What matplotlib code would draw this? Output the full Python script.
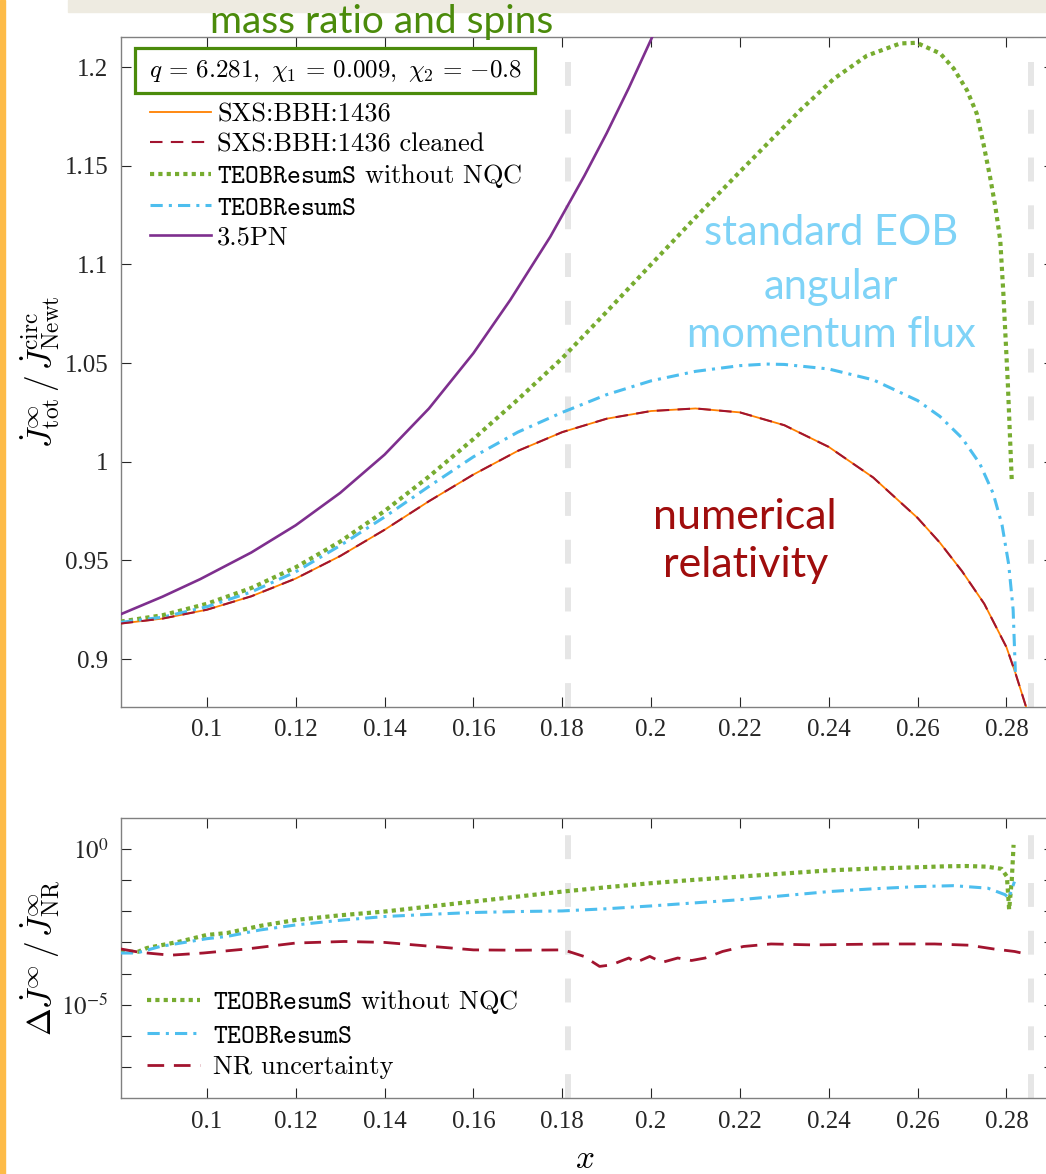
import numpy as np
import matplotlib
matplotlib.use("Agg")
import matplotlib.pyplot as plt
from matplotlib.patches import Rectangle

plt.rcParams['mathtext.fontset'] = 'cm'
plt.rcParams['font.family'] = ['Liberation Serif', 'DejaVu Serif']

W, H = 1046, 1174

# ---- top panel: flux / Newtonian circular flux ----
x_nr = [0.0806, 0.09, 0.10, 0.11, 0.12, 0.13, 0.14, 0.15, 0.16, 0.17, 0.18, 0.19,
        0.20, 0.21, 0.22, 0.23, 0.24, 0.25, 0.26, 0.265, 0.27, 0.275, 0.28, 0.282, 0.2848]
j_nr = [0.9180, 0.9205, 0.9250, 0.9318, 0.9408, 0.9522, 0.9655, 0.9800, 0.9935, 1.0055,
        1.0150, 1.0218, 1.0257, 1.0270, 1.0250, 1.0185, 1.0075, 0.9920, 0.9715, 0.9590,
        0.9445, 0.9280, 0.9060, 0.8930, 0.8730]

x_teob = [0.0806, 0.09, 0.10, 0.11, 0.12, 0.13, 0.14, 0.15, 0.16, 0.17, 0.18, 0.19, 0.20,
          0.21, 0.22, 0.226, 0.23, 0.24, 0.25, 0.26, 0.265, 0.27, 0.274, 0.277, 0.279,
          0.2805, 0.2815, 0.2820]
j_teob = [0.9186, 0.9212, 0.9265, 0.9340, 0.9442, 0.9575, 0.9720, 0.9875, 1.0025, 1.0150,
          1.0250, 1.0340, 1.0410, 1.0458, 1.0487, 1.0495, 1.0493, 1.0470, 1.0415, 1.0310,
          1.0230, 1.0120, 0.9990, 0.9840, 0.9680, 0.9480, 0.9250, 0.8935]

x_nonqc = [0.0806, 0.09, 0.10, 0.11, 0.12, 0.13, 0.14, 0.15, 0.16, 0.17, 0.18, 0.19, 0.20,
           0.21, 0.22, 0.2336, 0.2411, 0.2486, 0.2561, 0.2598, 0.2651, 0.2681, 0.2711,
           0.2733, 0.2748, 0.2763, 0.2775, 0.2786, 0.2793, 0.2803, 0.2812]
j_nonqc = [0.9190, 0.9222, 0.9280, 0.9360, 0.9465, 0.9595, 0.9750, 0.9925, 1.0115, 1.0315,
           1.0525, 1.0760, 1.1000, 1.1238, 1.1470, 1.1782, 1.1940, 1.2058, 1.2120, 1.2123,
           1.2069, 1.1993, 1.1883, 1.1765, 1.1613, 1.1444, 1.1292, 1.1123, 1.0853, 1.0400,
           0.9900]

x_pn = [0.0806, 0.09, 0.0985, 0.11, 0.12, 0.13, 0.14, 0.15, 0.16, 0.1683, 0.1773, 0.185,
        0.19, 0.195, 0.20, 0.2035]
j_pn = [0.9227, 0.9316, 0.9405, 0.9540, 0.9678, 0.9842, 1.0036, 1.0270, 1.0550, 1.0820,
        1.1140, 1.1450, 1.1665, 1.1895, 1.2140, 1.2320]

# ---- bottom panel: relative differences (log10) ----
xb_nonqc = [0.0806, 0.0845, 0.0865, 0.094, 0.10, 0.1045, 0.112, 0.12, 0.13, 0.14, 0.15,
            0.16, 0.17, 0.18, 0.19, 0.20, 0.21, 0.22, 0.23, 0.24, 0.25, 0.26, 0.266, 0.271,
            0.2755, 0.2789, 0.2801, 0.2806, 0.2812, 0.2816]
lb_nonqc = [-3.30, -3.30, -3.18, -2.97, -2.76, -2.70, -2.47, -2.28, -2.13, -2.01, -1.85,
            -1.69, -1.53, -1.37, -1.23, -1.10, -0.99, -0.89, -0.79, -0.69, -0.63, -0.59,
            -0.56, -0.55, -0.57, -0.64, -0.89, -1.95, -0.99, 0.13]

xb_teob = [0.0806, 0.0842, 0.0895, 0.10, 0.1045, 0.112, 0.12, 0.13, 0.14, 0.15, 0.16, 0.17,
           0.18, 0.19, 0.20, 0.21, 0.22, 0.23, 0.24, 0.25, 0.26, 0.268, 0.2758, 0.2797,
           0.2805, 0.2818]
lb_teob = [-3.34, -3.34, -3.13, -2.88, -2.81, -2.60, -2.44, -2.29, -2.17, -2.10, -2.04,
           -2.01, -1.99, -1.92, -1.83, -1.73, -1.63, -1.50, -1.37, -1.28, -1.21, -1.18,
           -1.26, -1.47, -1.58, -1.05]

xb_nr = [0.0806, 0.085, 0.0918, 0.0992, 0.109, 0.12, 0.1309, 0.14, 0.15, 0.16, 0.17, 0.18,
         0.1814, 0.1849, 0.1884, 0.1911, 0.193, 0.195, 0.1966, 0.1997, 0.2025, 0.206,
         0.2091, 0.2122, 0.2161, 0.2208, 0.227, 0.2364, 0.2521, 0.2638, 0.2716, 0.2771,
         0.2818, 0.2844]
lb_nr = [-3.21, -3.32, -3.41, -3.34, -3.21, -3.02, -2.97, -3.00, -3.12, -3.24, -3.25, -3.24,
         -3.29, -3.45, -3.77, -3.72, -3.61, -3.50, -3.64, -3.45, -3.64, -3.50, -3.58, -3.50,
         -3.29, -3.13, -3.05, -3.08, -3.05, -3.05, -3.09, -3.21, -3.29, -3.37]

x_marks = [0.1813, 0.2856]
xticks = [0.1, 0.12, 0.14, 0.16, 0.18, 0.2, 0.22, 0.24, 0.26, 0.28]
xtick_labels = ['0.1', '0.12', '0.14', '0.16', '0.18', '0.2', '0.22', '0.24', '0.26', '0.28']
yticks_top = [0.9, 0.95, 1.0, 1.05, 1.1, 1.15, 1.2]
ytick_labels_top = ['0.9', '0.95', '1', '1.05', '1.1', '1.15', '1.2']

c_orange = '#FF8000'
c_red = '#A2142F'
c_green = '#77AC30'
c_blue = '#4DBEEE'
c_purple = '#7E2F8E'
c_box = '#4B8B0B'


def fig_box(l, t, r, b):
    return [l / W, 1 - b / H, (r - l) / W, (b - t) / H]


fig = plt.figure(figsize=(W / 100, H / 100), dpi=100)

# slide decorations
fig.patches.append(Rectangle((0, 0), 5 / W, 1, transform=fig.transFigure,
                             color='#FDBB48', zorder=0))
fig.patches.append(Rectangle((68 / W, 1 - 12 / H), 1, 12 / H, transform=fig.transFigure,
                             color='#EEEBE1', zorder=0))

ax1 = fig.add_axes(fig_box(120.7, 36.7, 1054, 707))
ax2 = fig.add_axes(fig_box(120.7, 817.7, 1054, 1098.3))

for ax in (ax1, ax2):
    for xm in x_marks:
        ax.axvline(xm, color='#E6E6E6', lw=4.3, ls=(0, (4, 4)), zorder=1)
    ax.set_xlim(0.0806, 0.2907)
    ax.set_xticks(xticks)
    ax.set_xticklabels(xtick_labels)
    ax.tick_params(direction='in', length=7, width=0.8, colors='#262626',
                   labelsize=18, top=True, right=True, pad=9)
    for s in ax.spines.values():
        s.set_color('#808080')
        s.set_linewidth(1.0)

# top panel curves
ax1.plot(x_nr, j_nr, color=c_orange, lw=1.3, label='SXS:BBH:1436', zorder=3)
ax1.plot(x_nr, j_nr, color=c_red, lw=1.5, ls=(0, (6, 4)), label='SXS:BBH:1436 cleaned',
         zorder=4)
ax1.plot(x_nonqc, j_nonqc, color=c_green, lw=3.0, ls=(0, (1, 1)), dash_capstyle='butt',
         label=r'$\mathtt{TEOBResumS}$ without NQC', zorder=3)
ax1.plot(x_teob, j_teob, color=c_blue, lw=2.2, ls=(0, (4, 2, 1, 2)),
         label=r'$\mathtt{TEOBResumS}$', zorder=3)
ax1.plot(x_pn, j_pn, color=c_purple, lw=1.9, label='3.5PN', zorder=3)
ax1.set_ylim(0.8757, 1.2154)
ax1.set_yticks(yticks_top)
ax1.set_yticklabels(ytick_labels_top)

leg1 = ax1.legend(loc='upper left', bbox_to_anchor=(150 / W, 1 - 103 / H),
                  bbox_transform=fig.transFigure, frameon=False, borderpad=0,
                  borderaxespad=0, handlelength=2.3, handletextpad=0.25,
                  labelspacing=0.22, prop={'family': 'cmr10', 'size': 19})

# bottom panel curves
ax2.plot(xb_nonqc, 10 ** np.array(lb_nonqc), color=c_green, lw=3.0, ls=(0, (1, 1)),
         dash_capstyle='butt', label=r'$\mathtt{TEOBResumS}$ without NQC', zorder=3)
ax2.plot(xb_teob, 10 ** np.array(lb_teob), color=c_blue, lw=2.2, ls=(0, (4, 2, 1, 2)),
         label=r'$\mathtt{TEOBResumS}$', zorder=3)
ax2.plot(xb_nr, 10 ** np.array(lb_nr), color=c_red, lw=2.0, ls=(0, (6, 3.5)),
         label='NR uncertainty', zorder=3)
ax2.set_yscale('log')
ax2.set_ylim(1e-8, 1e1)
ax2.set_yticks([10.0 ** k for k in range(-7, 1)])
ax2.set_yticklabels(['' if k not in (0, -5) else r'$10^{%d}$' % k for k in range(-7, 1)])
ax2.yaxis.set_minor_locator(matplotlib.ticker.NullLocator())
for t in ax2.get_yticklabels():
    t.set_math_fontfamily('stix')

leg2 = ax2.legend(loc='upper left', bbox_to_anchor=(147 / W, 1 - 988 / H),
                  bbox_transform=fig.transFigure, frameon=False, borderpad=0,
                  borderaxespad=0, handlelength=2.0, handletextpad=0.5,
                  labelspacing=0.3, prop={'family': 'cmr10', 'size': 19})

# axis labels
fig.text(40 / W, 1 - 372 / H,
         r'$\dot{J}^{\infty}_{\rm tot}\,/\,\dot{J}^{\rm circ}_{\rm Newt}$',
         rotation=90, ha='center', va='center', fontsize=24)
fig.text(40 / W, 1 - 958 / H,
         r'$\Delta\dot{J}^{\infty}\,/\,\dot{J}^{\infty}_{\rm NR}$',
         rotation=90, ha='center', va='center', fontsize=24)
fig.text(585 / W, 1 - 1160 / H, r'$x$', ha='center', va='center', fontsize=24)

# annotations
fig.text(382 / W, 1 - 33 / H, 'mass ratio and spins', ha='center', va='baseline',
         color=c_box, fontsize=28, family='Lato')
fig.patches.append(Rectangle((135 / W, 1 - 93 / H), 400 / W, 45 / H,
                             transform=fig.transFigure, fill=True, facecolor='white',
                             edgecolor=c_box, lw=2.3, zorder=5))
fig.text(335 / W, 1 - 71 / H,
         r'$q\,=\,6.281,\ \chi_1\,=\,0.009,\ \chi_2\,=\,{-}0.8$',
         ha='center', va='center', fontsize=18, zorder=6)

for txt, yy in (('standard EOB', 1.116), ('angular', 1.0885), ('momentum flux', 1.0642)):
    ax1.text(0.2405, yy, txt, ha='center', va='center', color='#7FD3F7',
             fontsize=30, family='Lato')
for txt, yy in (('numerical', 0.972), ('relativity', 0.9476)):
    ax1.text(0.2212, yy, txt, ha='center', va='center', color='#A00D0D',
             fontsize=31, family='Lato')

fig.savefig('out.png', dpi=100)
